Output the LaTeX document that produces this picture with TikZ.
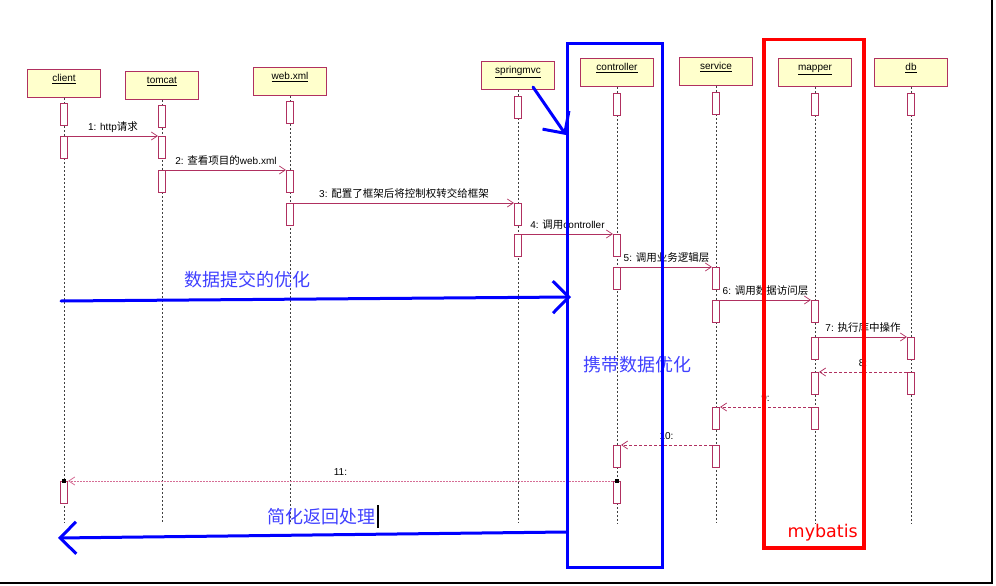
\documentclass[tikz,border=0pt]{standalone}
\usepackage{fontspec}
\setmainfont{Liberation Sans}
\newfontfamily\cjk{Noto Sans CJK SC}
\newfontfamily\dvs{DejaVu Sans}
\usetikzlibrary{arrows.meta}
\definecolor{umlred}{RGB}{176,48,96}
\definecolor{hdrfill}{RGB}{255,255,204}
\definecolor{retpink}{RGB}{214,110,150}
\definecolor{bluetext}{RGB}{64,64,255}
\newcommand\zh[1]{{\cjk\fontsize{10.5}{12}\selectfont #1}}
\begin{document}
\begin{tikzpicture}[x=1pt,y=-1pt,
  hdr/.style={draw=umlred, fill=hdrfill, line width=0.8pt, minimum width=73pt, minimum height=28pt,
    inner ysep=3pt, text height=9pt, text depth=13pt, font=\fontsize{10}{12}\selectfont, anchor=north},
  act/.style={draw=umlred, fill=white, line width=0.7pt, minimum width=7.5pt, minimum height=21.5pt, inner sep=0pt, anchor=north},
  life/.style={draw=black!75, line width=0.6pt, dash pattern=on 2pt off 2pt},
  msg/.style={draw=umlred, line width=0.7pt, -{Straight Barb[length=6pt,width=8pt]}},
  ret/.style={msg, dash pattern=on 3pt off 2pt},
  ret2/.style={draw=retpink, line width=0.8pt, dash pattern=on 1.5pt off 1.5pt, -{Straight Barb[length=6pt,width=8pt]}},
  lab/.style={font=\fontsize{10}{12}\selectfont, anchor=base, yshift=6pt, inner sep=0pt},
  sq/.style={fill=black, minimum size=4pt, inner sep=0pt},
  bigtxt/.style={font=\cjk\fontsize{18}{20}\selectfont, text=bluetext, inner sep=0pt, anchor=west},
  bigarrow/.style={draw=blue, line width=3pt, line join=round, line cap=round, -{Straight Barb[length=16pt,width=32pt]}},
  zone/.style={line width=3pt, anchor=north west, inner sep=0pt}
]
\useasboundingbox (0,0) rectangle (996,586);

% headers and lifelines
\foreach \n/\x/\t/\lab in {client/64/69/client, tomcat/162/71/tomcat, webxml/290/67/web.xml,
  springmvc/518/61/springmvc, controller/617/58/controller, service/716/57/service,
  mapper/815/58/mapper, db/911/58/db}{
  \node[hdr] (\n) at (\x,\t) {\underline{\lab}};
  \coordinate (\n-end) at (\x,523);
  \draw[life] (\n.south) -- (\n-end);
}

% activations
\node[act] (cl1) at (64,103) {};
\node[act] (cl2) at (64,136) {};
\node[act] (cl3) at (64,481) {};
\node[act] (tc1) at (162,105) {};
\node[act] (tc2) at (162,136) {};
\node[act] (tc3) at (162,170) {};
\node[act] (wx1) at (290,101) {};
\node[act] (wx2) at (290,170) {};
\node[act] (wx3) at (290,203) {};
\node[act] (sm1) at (518,96) {};
\node[act] (sm2) at (518,203) {};
\node[act] (sm3) at (518,234) {};
\node[act] (ct1) at (617,93) {};
\node[act] (ct2) at (617,234) {};
\node[act] (ct3) at (617,267) {};
\node[act] (ct4) at (617,445) {};
\node[act] (ct5) at (617,481) {};
\node[act] (sv1) at (716,92) {};
\node[act] (sv2) at (716,267) {};
\node[act] (sv3) at (716,300) {};
\node[act] (sv4) at (716,407) {};
\node[act] (sv5) at (716,445) {};
\node[act] (mp1) at (815,93) {};
\node[act] (mp2) at (815,300) {};
\node[act] (mp3) at (815,337) {};
\node[act] (mp4) at (815,372) {};
\node[act] (mp5) at (815,407) {};
\node[act] (db1) at (911,93) {};
\node[act] (db2) at (911,337) {};
\node[act] (db3) at (911,372) {};

% messages
\draw[msg] (cl2.north east) -- node[lab]{1: http\zh{请求}} (tc2.north west);
\draw[msg] (tc3.north east) -- node[lab]{2: \zh{查看项目的}web.xml} (wx2.north west);
\draw[msg] (wx3.north east) -- node[lab]{3: \zh{配置了框架后将控制权转交给框架}} (sm2.north west);
\draw[msg] (sm3.north east) -- node[lab]{4: \zh{调用}controller} (ct2.north west);
\draw[msg] (ct3.north east) -- node[lab]{5: \zh{调用业务逻辑层}} (sv2.north west);
\draw[msg] (sv3.north east) -- node[lab]{6: \zh{调用数据访问层}} (mp2.north west);
\draw[msg] (mp3.north east) -- node[lab]{7: \zh{执行库中操作}} (db2.north west);
\draw[ret] (db3.north west) -- node[lab]{8:} (mp4.north east);
\draw[ret] (mp5.north west) -- node[lab]{9:} (sv4.north east);
\draw[ret] (sv5.north west) -- node[lab]{10:} (ct4.north east);
\draw[ret2] (ct5.north west) -- node[lab]{11:} (cl3.north east);
\node[sq] (sqc) at (cl3.north) {};
\node[sq] (sqt) at (ct5.north) {};

% annotations
\node[bigtxt] (t1) at (184,280) {数据提交的优化};
\node[bigtxt] (t2) at (583,365) {携带数据优化};
\node[bigtxt] (t3) at (267,517) {简化返回处理};
\coordinate (cur1) at (378,505);
\coordinate (cur2) at (378,528);
\draw[black, line width=1.2pt] (cur1) -- (cur2);

\node[zone, draw=blue, minimum width=95pt, minimum height=524pt] (carry) at (566,42) {};
\node[zone, draw=red, line width=3.5pt, minimum width=100pt, minimum height=508pt] (mybatisbox) at (762,38) {};
\node[font=\dvs\fontsize{17.5}{20}\selectfont, text=red, anchor=base east, inner sep=0pt] (mb) at (858,537) {mybatis};

\coordinate (fS) at (61,301);
\coordinate (fE) at (571,297);
\draw[bigarrow] (fS) -- (fE);
\coordinate (bS) at (566,532);
\coordinate (bE) at (58,538);
\draw[bigarrow] (bS) -- (bE);
\coordinate (dS) at (533,87);
\coordinate (dE) at (566,135);
\draw[bigarrow] (dS) -- (dE);

% window border
\coordinate (w1) at (992,0);
\coordinate (w2) at (992,583);
\coordinate (w3) at (0,583);
\draw[black, line width=2pt] (w1) -- (w2) -- (w3);
\end{tikzpicture}
\end{document}
